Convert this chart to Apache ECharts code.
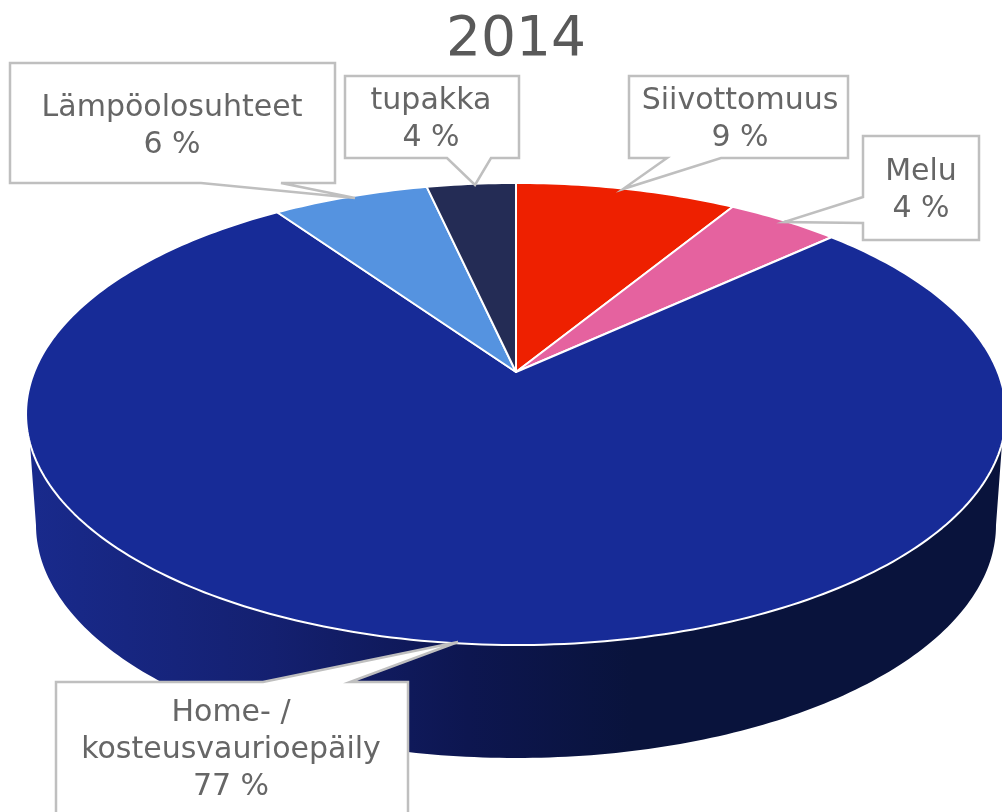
<!DOCTYPE html>
<html>
<head>
<meta charset="utf-8">
<style>html,body{margin:0;padding:0;background:#fff}#c{width:1002px;height:812px}</style>
<script src="https://cdn.jsdelivr.net/npm/echarts@6/dist/echarts.min.js"></script>
</head>
<body>
<div id="c"></div>
<script>
// Data, clockwise from twelve o'clock (shares, in %)
const categories = ['Siivottomuus', 'Melu', 'Home- /\nkosteusvaurioepäily', 'Lämpöolosuhteet', 'tupakka'];
const shares = [8.7, 4.45, 77.2, 6.15, 3.5];
const sliceColors = ['#ee2000', '#e5629f', '#172b97', '#5593e0', '#242c55'];
const chartTitle = '2014';

// Perspective projection of the pie disc
const CX = 516, CY = 372, RX = 481.8, RY = 223.4, K = -0.1818;
function rim(deg) {
  const a = deg * Math.PI / 180, s = -Math.cos(a), d = 1 + K * s;
  return [CX + RX * Math.sin(a) / d, CY + RY * s / d];
}
function lowerRim(deg) {
  const a = deg * Math.PI / 180;
  return [516 + 480 * Math.sin(a), 525 - 233 * Math.cos(a)];
}
const total = shares.reduce((a, b) => a + b, 0);
const starts = [];
shares.reduce((acc, v, i) => { starts[i] = acc; return acc + v; }, 0);

// Callout geometry, one per category
const callouts = [
  { pts: [[629,76],[848,76],[848,158],[721,158],[623,189],[667,158],[629,158]], tx: 740, ty: 120 },
  { pts: [[863,136],[979,136],[979,240],[863,240],[863,223],[784,222],[863,197]], tx: 921, ty: 190.5 },
  { pts: [[56,682],[263,682],[458,642],[350,682],[408,682],[408,830],[56,830]], tx: 231, ty: 750.5 },
  { pts: [[10,63],[335,63],[335,183],[281,183],[355,198],[201,183],[10,183]], tx: 172, ty: 126.5 },
  { pts: [[345,76],[519,76],[519,158],[491,158],[475,185],[447,158],[345,158]], tx: 431, ty: 120 }
];
const FONT = '"DejaVu Sans", Verdana, sans-serif';

const option = {
  animation: false,
  backgroundColor: '#fff',
  title: {
    text: chartTitle, left: 511, textAlign: 'center', top: 8,
    textStyle: { fontFamily: FONT, fontSize: 55, fontWeight: 'normal', color: '#595959' }
  },
  series: [
    { // front wall of the disc
      type: 'custom', coordinateSystem: 'none', silent: true, z: 1,
      data: [shares[2]],
      renderItem() {
        const pts = [];
        for (let d = 107.5; d <= 252.5; d += 1) pts.push(rim(d));
        for (let d = 270; d >= 90; d -= 1) pts.push(lowerRim(d));
        return {
          type: 'polygon', shape: { points: pts },
          style: {
            fill: { type: 'linear', x: 1, y: 0, x2: 0, y2: 0, colorStops: [
              { offset: 0, color: '#09133c' }, { offset: 0.38, color: '#09133c' },
              { offset: 0.55, color: '#0d1650' }, { offset: 0.75, color: '#142070' },
              { offset: 1, color: '#192a8c' } ] }
          }
        };
      }
    },
    { // top face slices
      type: 'custom', coordinateSystem: 'none', silent: true, z: 2,
      data: shares.map((v, i) => ({ name: categories[i].replace('\n', ' '), value: v })),
      renderItem(params) {
        const i = params.dataIndex;
        const a0 = starts[i] / total * 360, a1 = (starts[i] + shares[i]) / total * 360;
        const pts = [[CX, CY]], n = Math.ceil(a1 - a0);
        for (let j = 0; j <= n; j++) pts.push(rim(a0 + (a1 - a0) * j / n));
        return {
          type: 'polygon', shape: { points: pts },
          style: { fill: sliceColors[i], stroke: '#fff', lineWidth: 2, lineJoin: 'round' }
        };
      }
    },
    { // callouts
      type: 'custom', coordinateSystem: 'none', silent: true, z: 3,
      data: shares.map((v, i) => ({ name: categories[i].replace('\n', ' '), value: v })),
      renderItem(params) {
        const i = params.dataIndex, c = callouts[i];
        return {
          type: 'group',
          children: [
            { type: 'polygon', shape: { points: c.pts },
              style: { fill: '#fff', stroke: '#bfbfbf', lineWidth: 2.5, lineJoin: 'miter' } },
            { type: 'text', style: {
                text: categories[i] + '\n' + Math.round(shares[i]) + ' %',
                x: c.tx, y: c.ty, textAlign: 'center', textVerticalAlign: 'middle',
                font: '30px ' + FONT, lineHeight: 37, fill: '#666666' } }
          ]
        };
      }
    }
  ]
};
echarts.init(document.getElementById('c'), null, { renderer: 'canvas' }).setOption(option);
</script>
</body>
</html>
